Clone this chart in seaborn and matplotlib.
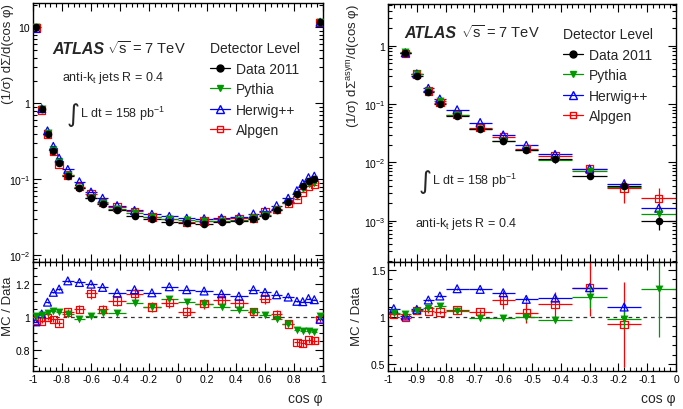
import numpy as np
import pandas as pd
import matplotlib
matplotlib.use("Agg")
import matplotlib.pyplot as plt
import seaborn as sns
from matplotlib.ticker import MultipleLocator, LogLocator, NullFormatter, FuncFormatter
from matplotlib.lines import Line2D

# ---------------- data ----------------
teec_edges = [-1.0, -0.96, -0.92, -0.88, -0.84, -0.80, -0.72, -0.64, -0.56, -0.48, -0.36, -0.24, -0.12, 0.0,
              0.12, 0.24, 0.36, 0.48, 0.56, 0.64, 0.72, 0.80, 0.84, 0.88, 0.92, 0.96, 1.0]
teec_data = [10.0, 0.84, 0.40, 0.237, 0.163, 0.111, 0.077, 0.057, 0.048, 0.0395, 0.0335, 0.0303, 0.0276,
             0.0265, 0.0263, 0.0272, 0.0285, 0.0302, 0.0335, 0.0398, 0.0505, 0.065, 0.081, 0.095, 0.100, 11.9]
teec_pythia = [10.06, 0.85, 0.41, 0.2455, 0.168, 0.113, 0.0762, 0.0573, 0.049, 0.0404, 0.0362, 0.0322, 0.0306,
               0.0289, 0.0284, 0.0288, 0.0296, 0.0311, 0.0339, 0.0392, 0.0484, 0.0599, 0.0742, 0.0868, 0.091, 11.97]
teec_herwig = [9.7, 0.855, 0.436, 0.2726, 0.1907, 0.1354, 0.0932, 0.0684, 0.0566, 0.0453, 0.0391, 0.0348, 0.0327,
               0.0309, 0.0305, 0.031, 0.0321, 0.0352, 0.0385, 0.0452, 0.0566, 0.0712, 0.0885, 0.1056, 0.1105, 11.73]
teec_alpgen = [9.8, 0.82, 0.398, 0.2337, 0.1568, 0.1143, 0.0805, 0.0652, 0.0502, 0.0433, 0.0382, 0.0321, 0.030,
               0.0273, 0.0284, 0.030, 0.0309, 0.0312, 0.0372, 0.0404, 0.0483, 0.0549, 0.0679, 0.0816, 0.0855, 11.73]
teec_r_pythia = [1.006, 1.012, 1.024, 1.036, 1.032, 1.02, 0.99, 1.006, 1.022, 1.022, 1.082, 1.063, 1.107,
                 1.092, 1.078, 1.058, 1.04, 1.03, 1.012, 0.986, 0.958, 0.922, 0.916, 0.914, 0.91, 1.006]
teec_r_herwig = [0.97, 1.018, 1.09, 1.15, 1.17, 1.22, 1.21, 1.2, 1.18, 1.147, 1.166, 1.147, 1.184,
                 1.166, 1.158, 1.141, 1.127, 1.166, 1.15, 1.135, 1.121, 1.095, 1.093, 1.112, 1.105, 0.986]
teec_r_alpgen = [0.98, 0.976, 0.996, 0.986, 0.962, 1.03, 1.046, 1.143, 1.046, 1.097, 1.141, 1.061, 1.087,
                 1.032, 1.081, 1.103, 1.083, 1.032, 1.111, 1.016, 0.956, 0.844, 0.838, 0.859, 0.855, 0.986]
teec_r_pythia_err = [0.005, 0.005, 0.006, 0.006, 0.006, 0.008, 0.008, 0.01, 0.01, 0.01, 0.012, 0.015, 0.015,
                     0.015, 0.012, 0.01, 0.01, 0.01, 0.01, 0.008, 0.008, 0.006, 0.006, 0.006, 0.006, 0.005]
teec_r_herwig_err = [0.004] * 26
teec_r_alpgen_err = [0.01, 0.015, 0.015, 0.02, 0.02, 0.02, 0.025, 0.035, 0.025, 0.03, 0.035, 0.03, 0.035,
                     0.035, 0.03, 0.03, 0.03, 0.025, 0.03, 0.025, 0.02, 0.02, 0.02, 0.02, 0.02, 0.015]

ateec_edges = [-1.0, -0.96, -0.92, -0.88, -0.84, -0.80, -0.72, -0.64, -0.56, -0.48, -0.36, -0.24, -0.12, 0.0]
ateec_data = [6.5, 0.75, 0.306, 0.158, 0.100, 0.0615, 0.0373, 0.0235, 0.0165, 0.0114, 0.0059, 0.00388, 0.00100]
ateec_data_err = [0.05, 0.005, 0.002, 0.001, 0.0008, 0.0005, 0.0003, 0.0002, 0.0002, 0.0002, 0.0002, 0.0002, 0.0003]
ateec_pythia = [6.8, 0.776, 0.325, 0.168, 0.1116, 0.0654, 0.0370, 0.0233, 0.0165, 0.01104, 0.00714, 0.00378, 0.00129]
ateec_herwig = [7.07, 0.7575, 0.330, 0.186, 0.122, 0.0798, 0.0482, 0.0295, 0.0196, 0.01368, 0.00772, 0.00429, 0.00163]
ateec_alpgen = [6.68, 0.745, 0.327, 0.168, 0.1053, 0.0660, 0.0394, 0.0277, 0.01726, 0.01292, 0.00772, 0.00358, 0.0024]
ateec_alpgen_err = [0.05, 0.005, 0.002, 0.001, 0.001, 0.0008, 0.0006, 0.0015, 0.0012, 0.0012, 0.0012, 0.0016, 0.0012]
ateec_r_pythia = [1.046, 1.035, 1.063, 1.098, 1.116, 1.063, 0.993, 0.993, 1.0, 0.968, 1.21, 0.975, 1.291]
ateec_r_herwig = [1.088, 1.01, 1.08, 1.179, 1.221, 1.298, 1.291, 1.256, 1.186, 1.2, 1.309, 1.105, 1.63]
ateec_r_alpgen = [1.028, 0.993, 1.07, 1.063, 1.053, 1.074, 1.056, 1.179, 1.046, 1.133, 1.309, 0.923, 2.4]
ateec_r_pythia_err = [0.01, 0.01, 0.01, 0.015, 0.015, 0.02, 0.02, 0.02, 0.03, 0.03, 0.12, 0.1, 0.5]
ateec_r_herwig_err = [0.005, 0.005, 0.008, 0.01, 0.01, 0.01, 0.01, 0.015, 0.02, 0.02, 0.03, 0.03, 0.05]
ateec_r_alpgen_err = [0.01, 0.01, 0.02, 0.02, 0.02, 0.03, 0.03, 0.1, 0.11, 0.13, 0.3, 0.45, 0.5]

# ---------------- style ----------------
sns.set_theme(style="ticks")
plt.rcParams["font.family"] = ["Liberation Sans", "DejaVu Sans"]
plt.rcParams["mathtext.fontset"] = "custom"
plt.rcParams["mathtext.rm"] = "Liberation Sans"
plt.rcParams["mathtext.it"] = "Liberation Sans:italic"
plt.rcParams["mathtext.bf"] = "Liberation Sans:bold"
plt.rcParams["axes.unicode_minus"] = False

C_DATA, C_PY, C_HW, C_AL = "black", "#009900", "#0000ff", "#ff0000"
W, H = 683, 410


def fx(px):
    return px / W


def fy(py):
    return 1 - py / H


fig = plt.figure(figsize=(W / 100, H / 100), dpi=100)


def mkax(l, t, r, b):
    return fig.add_axes([fx(l), fy(b), fx(r) - fx(l), (b - t) / H])


axL = mkax(33, 4, 323, 263)
axLr = mkax(33, 263, 323, 372)
axR = mkax(388, 5, 676, 263)
axRr = mkax(388, 263, 676, 372)


def centers(edges):
    e = np.asarray(edges)
    return (e[1:] + e[:-1]) / 2, (e[1:] - e[:-1]) / 2


def series(ax, edges, y, yerr, color, marker, filled, s=28):
    x, xe = centers(edges)
    ax.errorbar(x, y, xerr=xe, yerr=yerr, fmt="none", ecolor=color, elinewidth=0.9, capsize=0, zorder=2)
    df = pd.DataFrame({"x": x, "y": y})
    sns.scatterplot(data=df, x="x", y="y", ax=ax, marker=marker, s=s, color=color,
                    facecolor=color if filled else "none", edgecolor=color,
                    linewidth=0 if filled else 0.9, zorder=3, legend=False)


def logfmt(v, pos):
    if abs(v - 1) < 1e-9:
        return "1"
    if abs(v - 10) < 1e-9:
        return "10"
    return r"$10^{%d}$" % int(round(np.log10(v)))


def style(ax, xmaj, xmin, log=False, ymaj=None, ymin=None, xlabels=True):
    for sp in ax.spines.values():
        sp.set_linewidth(1.0)
        sp.set_color("black")
    ax.xaxis.set_major_locator(MultipleLocator(xmaj))
    ax.xaxis.set_minor_locator(MultipleLocator(xmin))
    if log:
        ax.set_yscale("log")
        ax.yaxis.set_major_locator(LogLocator(base=10, numticks=20))
        ax.yaxis.set_minor_locator(LogLocator(base=10, subs=np.arange(2, 10), numticks=20))
        ax.yaxis.set_major_formatter(FuncFormatter(logfmt))
        ax.yaxis.set_minor_formatter(NullFormatter())
    else:
        ax.yaxis.set_major_locator(MultipleLocator(ymaj))
        ax.yaxis.set_minor_locator(MultipleLocator(ymin))
        ax.yaxis.set_major_formatter(FuncFormatter(lambda v, p: ("%g" % round(v, 3))))
    ax.tick_params(which="both", direction="in", top=True, right=True, colors="black",
                   labelsize=7.5, pad=2)
    ax.tick_params(which="major", length=6, width=0.8)
    ax.tick_params(which="minor", length=3, width=0.8)
    if not xlabels:
        ax.tick_params(axis="x", labelbottom=False)
    else:
        ax.xaxis.set_major_formatter(FuncFormatter(lambda v, p: ("%g" % round(v, 3))))
    ax.set_xlabel("")
    ax.set_ylabel("")


# ---------- left top ----------
series(axL, teec_edges, teec_alpgen, None, C_AL, "s", False)
series(axL, teec_edges, teec_herwig, None, C_HW, "^", False, s=32)
series(axL, teec_edges, teec_pythia, None, C_PY, "v", True, s=32)
series(axL, teec_edges, teec_data, None, C_DATA, "o", True, s=30)
axL.set_xlim(-1, 1)
axL.set_ylim(0.0082, 21)
style(axL, 0.2, 0.04, log=True, xlabels=False)

# ---------- left ratio ----------
axLr.axhline(1, color="#333333", ls=(0, (3, 3)), lw=0.9, zorder=1)
series(axLr, teec_edges, teec_r_alpgen, teec_r_alpgen_err, C_AL, "s", False)
series(axLr, teec_edges, teec_r_herwig, teec_r_herwig_err, C_HW, "^", False, s=32)
series(axLr, teec_edges, teec_r_pythia, teec_r_pythia_err, C_PY, "v", True, s=32)
axLr.set_xlim(-1, 1)
axLr.set_ylim(0.67, 1.335)
style(axLr, 0.2, 0.04, ymaj=0.2, ymin=0.05)

# ---------- right top ----------
series(axR, ateec_edges, ateec_alpgen, ateec_alpgen_err, C_AL, "s", False)
series(axR, ateec_edges, ateec_herwig, None, C_HW, "^", False, s=32)
series(axR, ateec_edges, ateec_pythia, None, C_PY, "v", True, s=32)
series(axR, ateec_edges, ateec_data, ateec_data_err, C_DATA, "o", True, s=30)
axR.set_xlim(-1, 0)
axR.set_ylim(1.95e-4, 5.2)
style(axR, 0.1, 0.02, log=True, xlabels=False)

# ---------- right ratio ----------
axRr.axhline(1, color="#333333", ls=(0, (3, 3)), lw=0.9, zorder=1)
series(axRr, ateec_edges, ateec_r_alpgen, ateec_r_alpgen_err, C_AL, "s", False)
series(axRr, ateec_edges, ateec_r_herwig, ateec_r_herwig_err, C_HW, "^", False, s=32)
series(axRr, ateec_edges, ateec_r_pythia, ateec_r_pythia_err, C_PY, "v", True, s=32)
axRr.set_xlim(-1, 0)
axRr.set_ylim(0.43, 1.58)
style(axRr, 0.1, 0.02, ymaj=0.5, ymin=0.1)

# ---------- axis titles ----------
fig.text(fx(8), fy(4), "(1/σ) dΣ/d(cos φ)", rotation=90, ha="center", va="top", fontsize=9.5)
fig.text(fx(8), fy(306), "MC / Data", rotation=90, ha="center", va="center", fontsize=9.5)
fig.text(fx(354), fy(4), r"(1/σ) dΣ$^{\mathrm{asym}}$/d(cos φ)", rotation=90, ha="center", va="top", fontsize=9.5)
fig.text(fx(357), fy(316), "MC / Data", rotation=90, ha="center", va="center", fontsize=9.5)
fig.text(fx(323), fy(399), "cos φ", ha="right", va="center", fontsize=10)
fig.text(fx(676), fy(399), "cos φ", ha="right", va="center", fontsize=10)

# ---------- annotations ----------
def atlas(x_atlas, x_rs, base):
    fig.text(fx(x_atlas), fy(base), "ATLAS", fontsize=11.5, fontweight="bold", fontstyle="italic",
             ha="left", va="baseline")
    fig.text(fx(x_rs), fy(base), r"$\sqrt{\mathrm{s}}$ = 7 TeV", fontsize=10.5, ha="left", va="baseline")


def lumi(x, yc):
    fig.text(fx(x), fy(yc), "∫", fontsize=18, ha="left", va="center", family=["DejaVu Sans"])
    fig.text(fx(x + 13), fy(yc - 1), r"L dt = 158 pb$^{-1}$", fontsize=9, ha="left", va="center")


atlas(52, 107, 54)
fig.text(fx(62), fy(81), r"anti-k$_{\mathrm{t}}$ jets R = 0.4", fontsize=9, ha="left", va="baseline")
lumi(67, 115)

atlas(404, 461, 38)
fig.text(fx(415), fy(227), r"anti-k$_{\mathrm{t}}$ jets R = 0.4", fontsize=9, ha="left", va="baseline")
lumi(419, 182)

# ---------- legends ----------
handles = [
    Line2D([], [], color=C_DATA, marker="o", ms=5, lw=0.9, markerfacecolor=C_DATA, markeredgecolor=C_DATA),
    Line2D([], [], color=C_PY, marker="v", ms=5, lw=0.9, markerfacecolor=C_PY, markeredgecolor=C_PY),
    Line2D([], [], color=C_HW, marker="^", ms=6, lw=0.9, markerfacecolor="none", markeredgecolor=C_HW),
    Line2D([], [], color=C_AL, marker="s", ms=5, lw=0.9, markerfacecolor="none", markeredgecolor=C_AL),
]
labels = ["Data 2011", "Pythia", "Herwig++", "Alpgen"]


def legend(ax, x, ytop):
    lg = ax.legend(handles, labels, title="Detector Level", loc="upper left",
                   bbox_to_anchor=(fx(x), fy(ytop)), bbox_transform=fig.transFigure,
                   frameon=False, fontsize=10, title_fontsize=10, borderpad=0,
                   handlelength=1.45, handletextpad=0.4, labelspacing=0.47, alignment="left",
                   borderaxespad=0)
    return lg


legend(axL, 210, 42)
legend(axR, 563, 28)

fig.savefig("out.png", dpi=100)
